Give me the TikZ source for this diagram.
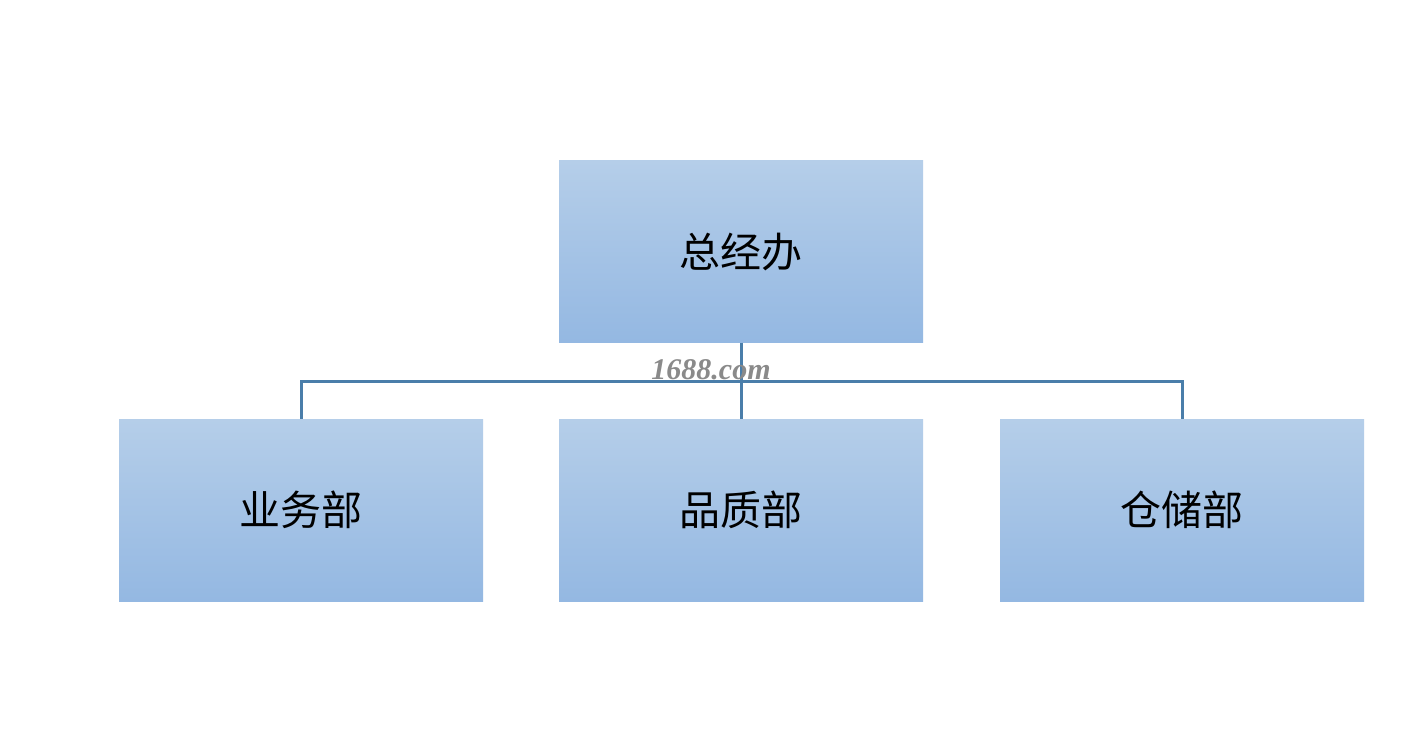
\documentclass[tikz,border=0pt]{standalone}
\usepackage{fontspec}
\newfontfamily\cjk{Noto Sans CJK SC}
\newfontfamily\wmfont{Liberation Serif}
\definecolor{boxtop}{HTML}{B5CEE9}
\definecolor{boxbot}{HTML}{94B8E2}
\definecolor{linkc}{HTML}{4A7EAA}
\definecolor{wmgray}{HTML}{8A8A8A}
\begin{document}
\begin{tikzpicture}[x=1pt,y=-1pt,
  orgbox/.style={rectangle, minimum width=364pt, minimum height=182pt, inner sep=0pt,
    top color=boxtop, bottom color=boxbot, draw=none,
    font=\cjk\fontsize{41}{44}\selectfont, text=black},
  link/.style={draw=linkc, line width=3pt}]
\useasboundingbox (0,0) rectangle (1422,739);
\fill[white] (0,0) rectangle (1422,739);
\node[orgbox] (top) at (741,251.5) {总经办};
\node[orgbox] (a) at (301,510) {业务部};
\node[orgbox] (b) at (741,510) {品质部};
\node[orgbox] (c) at (1182,510) {仓储部};
\coordinate (j) at (741,381);
\draw[link] (top.south) -- (j);
\draw[link] (a.north) |- (j) -| (c.north);
\draw[link] (j) -- (b.north);
\node[text=wmgray, font=\wmfont\bfseries\itshape\fontsize{30}{32}\selectfont, inner sep=0pt] (wm) at (711,370) {1688.com};
\end{tikzpicture}
\end{document}
